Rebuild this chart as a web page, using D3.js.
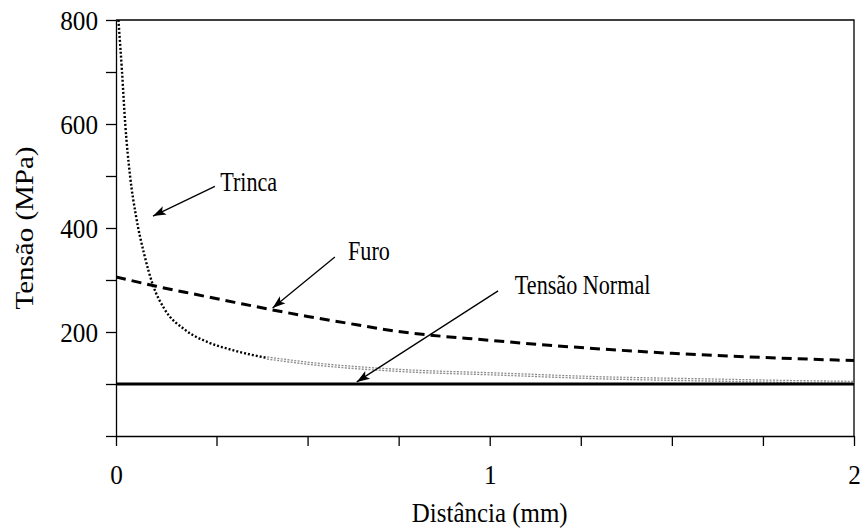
<!DOCTYPE html>
<html>
<head>
<meta charset="utf-8">
<script src="https://cdn.jsdelivr.net/npm/d3@7"></script>
<style>
  body { margin: 0; background: #fff; }
  svg text { font-family: 'Liberation Serif', 'DejaVu Serif', serif; fill: #000; }
</style>
</head>
<body>
<div id="chart"></div>
<script>
// distances (mm) and stresses (MPa)
const distTrinca = [0.006, 0.015, 0.023, 0.035, 0.05, 0.07, 0.092, 0.12, 0.172, 0.23, 0.295, 0.389];
const tensTrinca = [800, 700, 600, 500, 422, 350, 290, 245, 204, 180, 165, 150];
// tail of the crack curve, drawn lighter in the original
const distTrincaTail = [0.389, 0.5, 0.754, 1.03, 1.3, 1.58, 1.8, 2.0];
const tensTrincaTail = [150, 140, 126, 119, 112, 108, 105, 103];

const distFuro = [0, 0.1, 0.2, 0.3, 0.4, 0.5, 0.6, 0.75, 1.0, 1.25, 1.5, 1.75, 2.0];
const tensFuro = [306, 288, 272, 257, 243, 230, 218, 201, 184, 170, 159, 151, 145];

const distNormal = [0, 2];
const tensNormal = [100, 100];

const xTicks = [0, 0.25, 0.5, 0.75, 1, 1.25, 1.5, 1.75, 2];
const xTickLabels = [0, 1, 2];
const yTicks = [0, 100, 200, 300, 400, 500, 600, 700, 800];
const yTickLabels = [200, 400, 600, 800];

const annotations = [
  { text: "Trinca", tip: [0.092, 423], tail: [0.246, 480], at: [0.26, 471] },
  { text: "Furo", tip: [0.404, 246], tail: [0.575, 344], at: [0.611, 338] },
  { text: "Tensão Normal", tip: [0.635, 104], tail: [1.023, 279], at: [1.069, 273] }
];

const width = 862;
const height = 531;
const serif = "Liberation Serif, DejaVu Serif, serif";

const svg = d3.select("#chart")
  .append("svg")
  .attr("width", width)
  .attr("height", height)
  .attr("font-family", serif);

// the original axis has a wider first interval
const x = d3.scaleLinear()
  .domain([0, 0.25, 2])
  .range([116, 216.5, 854]);

const y = d3.scaleLinear()
  .domain([0, 800])
  .range([436, 20]);

// squeeze text horizontally like the original
function squeeze(sel, k) {
  sel.each(function () {
    const len = this.getComputedTextLength();
    d3.select(this)
      .attr("textLength", len * k)
      .attr("lengthAdjust", "spacingAndGlyphs");
  });
}

svg.append("defs").append("marker")
  .attr("id", "arrow")
  .attr("viewBox", "-14 -6 16 12")
  .attr("refX", 0)
  .attr("refY", 0)
  .attr("markerWidth", 16)
  .attr("markerHeight", 12)
  .attr("markerUnits", "userSpaceOnUse")
  .attr("orient", "auto")
  .append("path")
  .attr("d", "M0,0 L-13,-4.5 L-10,0 L-13,4.5 Z")
  .attr("fill", "#000");

svg.append("clipPath").attr("id", "plot")
  .append("rect")
  .attr("x", x(0))
  .attr("y", y(800))
  .attr("width", x(2) - x(0))
  .attr("height", y(0) - y(800));

// frame
svg.append("path")
  .attr("d", `M${x(0)},${y(800)}H${x(2)}V${y(0)}`)
  .attr("fill", "none")
  .attr("stroke", "#000")
  .attr("stroke-width", 1.3);

const line = d3.line()
  .x(d => x(d[0]))
  .y(d => y(d[1]))
  .curve(d3.curveMonotoneX);

const plot = svg.append("g").attr("clip-path", "url(#plot)");

// crack tail: grey double-dotted look
const tail = d3.zip(distTrincaTail, tensTrincaTail);
plot.append("path")
  .datum(tail)
  .attr("fill", "none")
  .attr("stroke", "#8c8c8c")
  .attr("stroke-width", 3.4)
  .attr("stroke-dasharray", "2,1.4")
  .attr("d", line);
plot.append("path")
  .datum(tail)
  .attr("fill", "none")
  .attr("stroke", "#fff")
  .attr("stroke-width", 0.8)
  .attr("d", line);

plot.append("path")
  .datum(d3.zip(distTrinca, tensTrinca))
  .attr("fill", "none")
  .attr("stroke", "#000")
  .attr("stroke-width", 2.4)
  .attr("stroke-dasharray", "2,2")
  .attr("d", line);

plot.append("path")
  .datum(d3.zip(distFuro, tensFuro))
  .attr("fill", "none")
  .attr("stroke", "#000")
  .attr("stroke-width", 3)
  .attr("stroke-dasharray", "10,6")
  .attr("d", line);

plot.append("path")
  .datum(d3.zip(distNormal, tensNormal))
  .attr("fill", "none")
  .attr("stroke", "#000")
  .attr("stroke-width", 3)
  .attr("d", d3.line().x(d => x(d[0])).y(d => y(d[1])));

// axes
const xAxis = svg.append("g")
  .attr("transform", `translate(0,${y(0)})`)
  .call(d3.axisBottom(x)
    .tickValues(xTicks)
    .tickSize(10)
    .tickSizeOuter(0)
    .tickFormat(d => xTickLabels.includes(d) ? d : ""));
xAxis.attr("font-family", serif);
xAxis.select(".domain").attr("stroke-width", 1.3);
xAxis.selectAll(".tick line").attr("stroke-width", 1.3);
xAxis.selectAll(".tick text")
  .attr("y", 48)
  .attr("dy", 0)
  .attr("font-size", 28)
  .call(squeeze, 0.9);

const yAxis = svg.append("g")
  .attr("transform", `translate(${x(0)},0)`)
  .call(d3.axisLeft(y)
    .tickValues(yTicks)
    .tickSize(10)
    .tickSizeOuter(0)
    .tickFormat(d => yTickLabels.includes(d) ? d : ""));
yAxis.attr("font-family", serif);
yAxis.select(".domain").attr("stroke-width", 1.3);
yAxis.selectAll(".tick line").attr("stroke-width", 1.3);
yAxis.selectAll(".tick text")
  .attr("x", -18)
  .attr("dy", "0.35em")
  .attr("font-size", 28)
  .call(squeeze, 0.9);

svg.selectAll(".domain, .tick line").attr("stroke", "#000");

// titles
svg.append("text")
  .attr("x", x(1))
  .attr("y", 522)
  .attr("text-anchor", "middle")
  .attr("font-size", 28)
  .text("Distância (mm)")
  .call(squeeze, 0.89);

svg.append("text")
  .attr("transform", `translate(33,${(y(0) + y(800)) / 2}) rotate(-90) scale(1,0.9)`)
  .attr("text-anchor", "middle")
  .attr("font-size", 29)
  .text("Tensão (MPa)");

// annotations
annotations.forEach(a => {
  svg.append("line")
    .attr("x1", x(a.tail[0]))
    .attr("y1", y(a.tail[1]))
    .attr("x2", x(a.tip[0]))
    .attr("y2", y(a.tip[1]))
    .attr("stroke", "#000")
    .attr("stroke-width", 1.3)
    .attr("marker-end", "url(#arrow)");
  svg.append("text")
    .attr("x", x(a.at[0]))
    .attr("y", y(a.at[1]))
    .attr("font-size", 27)
    .text(a.text)
    .call(squeeze, 0.82);
});
</script>
</body>
</html>
